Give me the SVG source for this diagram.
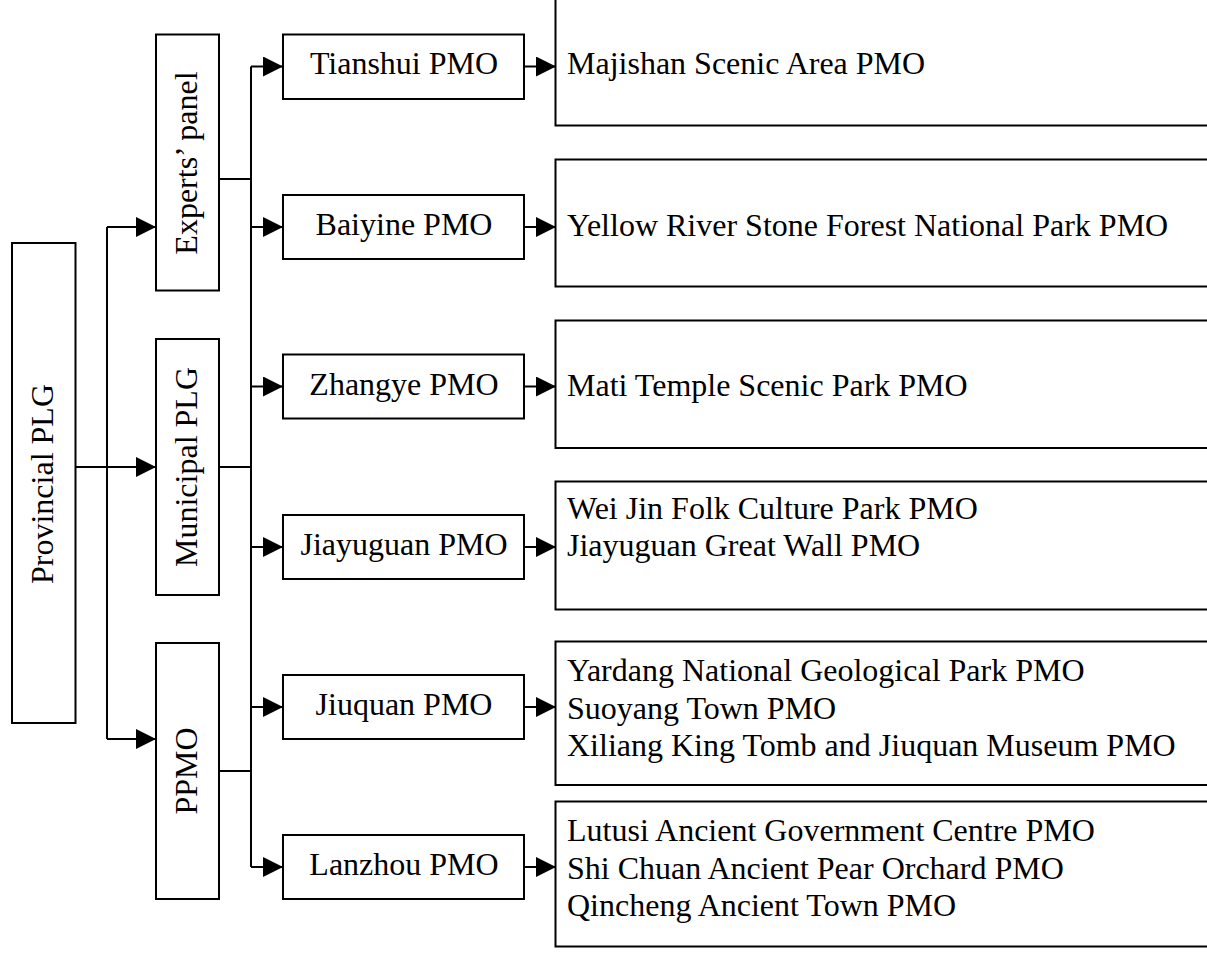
<svg xmlns="http://www.w3.org/2000/svg" width="1207" height="956" viewBox="0 0 1207 956">
<style>
.box{fill:#fff;stroke:#000;stroke-width:2}
.t{font-family:"Liberation Serif","Times New Roman",serif;font-size:32px;fill:#000}
.c{text-anchor:middle}
.ln{fill:none;stroke:#000;stroke-width:2}
</style>
<defs>
<marker id="ah" markerUnits="userSpaceOnUse" markerWidth="20" markerHeight="20" refX="19" refY="10" orient="auto">
<path d="M0,0 L20,10 L0,20 z" fill="#000"/>
</marker>
</defs>
<rect width="1207" height="956" fill="#fff"/>
<g id="connectors">
<path class="ln" d="M76,467 H155" marker-end="url(#ah)"/>
<path class="ln" d="M107,227 V739"/>
<path class="ln" d="M107,227 H155" marker-end="url(#ah)"/>
<path class="ln" d="M107,739 H155" marker-end="url(#ah)"/>
<path class="ln" d="M219,179 H251"/>
<path class="ln" d="M219,467 H251"/>
<path class="ln" d="M219,771 H251"/>
<path class="ln" d="M251,66.5 V867"/>
<path class="ln" d="M251,66.5 H282" marker-end="url(#ah)"/>
<path class="ln" d="M251,227 H282" marker-end="url(#ah)"/>
<path class="ln" d="M251,386.5 H282" marker-end="url(#ah)"/>
<path class="ln" d="M251,547 H282" marker-end="url(#ah)"/>
<path class="ln" d="M251,707 H282" marker-end="url(#ah)"/>
<path class="ln" d="M251,867 H282" marker-end="url(#ah)"/>
<path class="ln" d="M524,66.5 H555" marker-end="url(#ah)"/>
<path class="ln" d="M524,227 H555" marker-end="url(#ah)"/>
<path class="ln" d="M524,386.5 H555" marker-end="url(#ah)"/>
<path class="ln" d="M524,547 H555" marker-end="url(#ah)"/>
<path class="ln" d="M524,707 H555" marker-end="url(#ah)"/>
<path class="ln" d="M524,867 H555" marker-end="url(#ah)"/>
</g>
<g id="provincial">
<rect class="box" x="12" y="243" width="63.5" height="480"/>
<text class="t c" transform="translate(53,484) rotate(-90)">Provincial PLG</text>
</g>
<g id="experts">
<rect class="box" x="156" y="34.5" width="63" height="256"/>
<text class="t c" transform="translate(197,163) rotate(-90)">Experts’ panel</text>
</g>
<g id="municipal">
<rect class="box" x="156" y="339" width="63" height="256"/>
<text class="t c" transform="translate(197,467) rotate(-90)">Municipal PLG</text>
</g>
<g id="ppmo">
<rect class="box" x="156" y="643" width="63" height="256"/>
<text class="t c" transform="translate(197,771) rotate(-90)">PPMO</text>
</g>
<g id="tianshui">
<rect class="box" x="283" y="34.5" width="241" height="64.5"/>
<text class="t c" x="404" y="74">Tianshui PMO</text>
</g>
<g id="baiyine">
<rect class="box" x="283" y="195" width="241" height="64"/>
<text class="t c" x="404" y="235">Baiyine PMO</text>
</g>
<g id="zhangye">
<rect class="box" x="283" y="354.5" width="241" height="64"/>
<text class="t c" x="404" y="395">Zhangye PMO</text>
</g>
<g id="jiayuguan">
<rect class="box" x="283" y="515" width="241" height="64"/>
<text class="t c" x="404" y="555">Jiayuguan PMO</text>
</g>
<g id="jiuquan">
<rect class="box" x="283" y="675" width="241" height="64"/>
<text class="t c" x="404" y="715">Jiuquan PMO</text>
</g>
<g id="lanzhou">
<rect class="box" x="283" y="835" width="241" height="64"/>
<text class="t c" x="404" y="875">Lanzhou PMO</text>
</g>
<g id="majishan">
<rect class="box" x="555.5" y="-2" width="670" height="127.5"/>
<text class="t" x="567" y="74">Majishan Scenic Area PMO</text>
</g>
<g id="yellowriver">
<rect class="box" x="555.5" y="159.5" width="670" height="127"/>
<text class="t" x="567" y="236">Yellow River Stone Forest National Park PMO</text>
</g>
<g id="mati">
<rect class="box" x="555.5" y="320.5" width="670" height="127.5"/>
<text class="t" x="567" y="396">Mati Temple Scenic Park PMO</text>
</g>
<g id="jiayuguan-sites">
<rect class="box" x="555.5" y="481.5" width="670" height="128"/>
<text class="t" x="567" y="519">Wei Jin Folk Culture Park PMO</text>
<text class="t" x="567" y="556">Jiayuguan Great Wall PMO</text>
</g>
<g id="jiuquan-sites">
<rect class="box" x="555.5" y="641.5" width="670" height="143.5"/>
<text class="t" x="567" y="681">Yardang National Geological Park PMO</text>
<text class="t" x="567" y="718.5">Suoyang Town PMO</text>
<text class="t" x="567" y="756">Xiliang King Tomb and Jiuquan Museum PMO</text>
</g>
<g id="lanzhou-sites">
<rect class="box" x="555.5" y="801.5" width="670" height="145"/>
<text class="t" x="567" y="841">Lutusi Ancient Government Centre PMO</text>
<text class="t" x="567" y="878.5">Shi Chuan Ancient Pear Orchard PMO</text>
<text class="t" x="567" y="916">Qincheng Ancient Town PMO</text>
</g>
</svg>
